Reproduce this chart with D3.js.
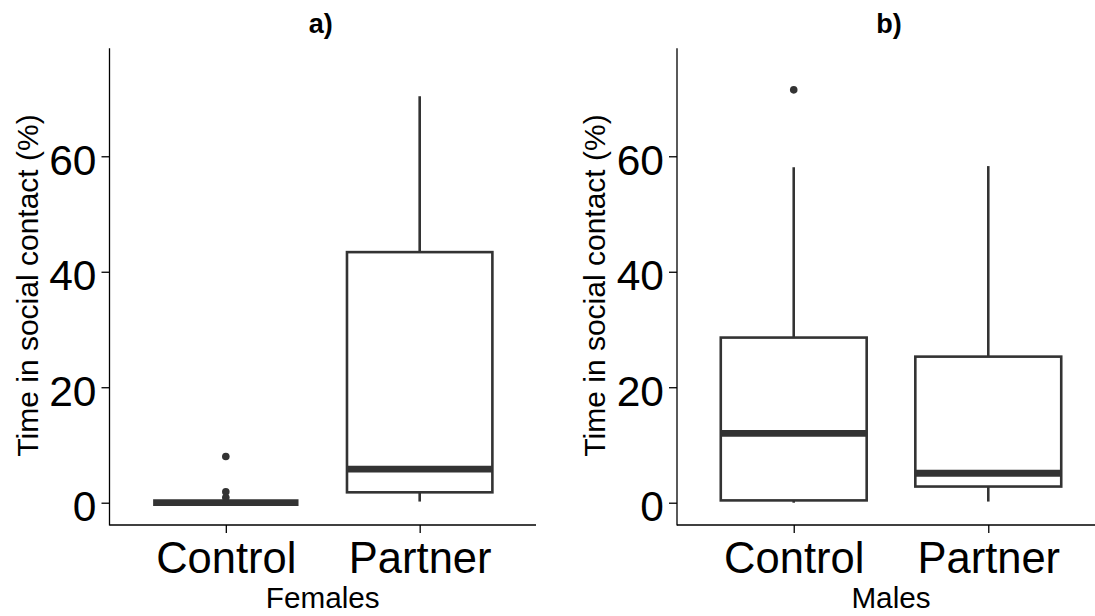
<!DOCTYPE html>
<html lang="en">
<head>
    <meta charset="UTF-8">
    <title>Social contact boxplots</title>
    <script src="https://d3js.org/d3.v7.min.js"></script>
    <style>
        body { margin: 0; background: #fff; }
        text { font-family: "Liberation Sans", Arial, sans-serif; }
    </style>
</head>
<body>
    <div id="my_dataviz"></div>

    <script>
        // data
        const categories = ["Control", "Partner"];
        const yTicks = [0, 20, 40, 60];
        const panelTitles = ["a)", "b)"];
        const groupLabels = ["Females", "Males"];

        // box stats: [lower whisker, q1, median, q3, upper whisker]
        const femalesStats = [[0, 0, 0, 0, 0], [0.2, 1.8, 5.8, 43.4, 70.4]];
        const femalesOutliers = [[8.0, 1.9, 0.9], []];
        const malesStats = [[0, 0.4, 12.0, 28.6, 58.1], [0.2, 2.8, 5.1, 25.3, 58.3]];
        const malesOutliers = [[71.5], []];

        const W = 1095, H = 616;
        const svg = d3.select("#my_dataviz")
            .append("svg")
            .attr("width", W)
            .attr("height", H);

        const y = d3.scaleLinear()
            .domain([-3.86, 78.7])
            .range([525, 48.3]);

        const panels = [
            {left: 109.5, right: 536, stats: femalesStats, outliers: femalesOutliers},
            {left: 677, right: 1105, stats: malesStats, outliers: malesOutliers}
        ];

        panels.forEach((p, i) => {
            const x = d3.scalePoint()
                .domain(categories)
                .range([p.left, p.right])
                .padding(0.6);
            const boxW = x.step() * 0.75;
            const g = svg.append("g");

            // boxes
            const box = g.selectAll(".box")
                .data(categories)
                .join("g");

            // whiskers
            box.append("line")
                .attr("x1", d => x(d)).attr("x2", d => x(d))
                .attr("y1", (d, j) => y(p.stats[j][4]))
                .attr("y2", (d, j) => y(p.stats[j][3]))
                .attr("stroke", "#333").attr("stroke-width", 2.6);
            box.append("line")
                .attr("x1", d => x(d)).attr("x2", d => x(d))
                .attr("y1", (d, j) => y(p.stats[j][1]))
                .attr("y2", (d, j) => y(p.stats[j][0]))
                .attr("stroke", "#333").attr("stroke-width", 2.6);

            box.append("rect")
                .attr("x", d => x(d) - boxW / 2)
                .attr("width", boxW)
                .attr("y", (d, j) => y(p.stats[j][3]))
                .attr("height", (d, j) => y(p.stats[j][1]) - y(p.stats[j][3]))
                .attr("fill", "white")
                .attr("stroke", "#333")
                .attr("stroke-width", 2.6);

            // median
            box.append("line")
                .attr("x1", d => x(d) - boxW / 2)
                .attr("x2", d => x(d) + boxW / 2)
                .attr("y1", (d, j) => y(p.stats[j][2]))
                .attr("y2", (d, j) => y(p.stats[j][2]))
                .attr("stroke", "#333").attr("stroke-width", 6.8);

            // outliers
            categories.forEach((c, j) => {
                g.selectAll(null)
                    .data(p.outliers[j])
                    .join("circle")
                    .attr("cx", x(c))
                    .attr("cy", d => y(d))
                    .attr("r", 3.8)
                    .attr("fill", "#333");
            });

            // axes
            const yAxis = g.append("g")
                .attr("transform", `translate(${p.left},0)`)
                .call(d3.axisLeft(y).tickValues(yTicks).tickSize(8).tickPadding(5));
            yAxis.select(".domain").remove();
            yAxis.selectAll(".tick line").attr("stroke", "#000").attr("stroke-width", 1.3);
            yAxis.selectAll("text")
                .attr("font-size", 42.5).attr("fill", "#000").attr("dy", "0.42em");

            const xAxis = g.append("g")
                .attr("transform", "translate(0,525)")
                .call(d3.axisBottom(x).tickSize(8).tickPadding(9));
            xAxis.select(".domain").remove();
            xAxis.selectAll(".tick line").attr("stroke", "#000").attr("stroke-width", 1.3);
            xAxis.selectAll("text")
                .attr("font-size", 43.5).attr("fill", "#000");

            g.append("line")
                .attr("x1", p.left).attr("x2", p.left)
                .attr("y1", 48.3).attr("y2", 525.6)
                .attr("stroke", "#000").attr("stroke-width", 1.3);
            g.append("line")
                .attr("x1", p.left).attr("x2", p.right)
                .attr("y1", 525).attr("y2", 525)
                .attr("stroke", "#000").attr("stroke-width", 1.3);

            // titles
            const cx = (p.left + p.right) / 2;
            g.append("text")
                .attr("x", cx - 2).attr("y", 33)
                .attr("text-anchor", "middle")
                .attr("font-size", 27).attr("font-weight", "bold")
                .text(panelTitles[i]);
            g.append("text")
                .attr("x", cx).attr("y", 608)
                .attr("text-anchor", "middle")
                .attr("font-size", 29.7)
                .text(groupLabels[i]);
            g.append("text")
                .attr("transform", `translate(${p.left - 72},${285.5}) rotate(-90)`)
                .attr("text-anchor", "middle")
                .attr("font-size", 30)
                .text("Time in social contact (%)");
        });
    </script>
</body>
</html>
